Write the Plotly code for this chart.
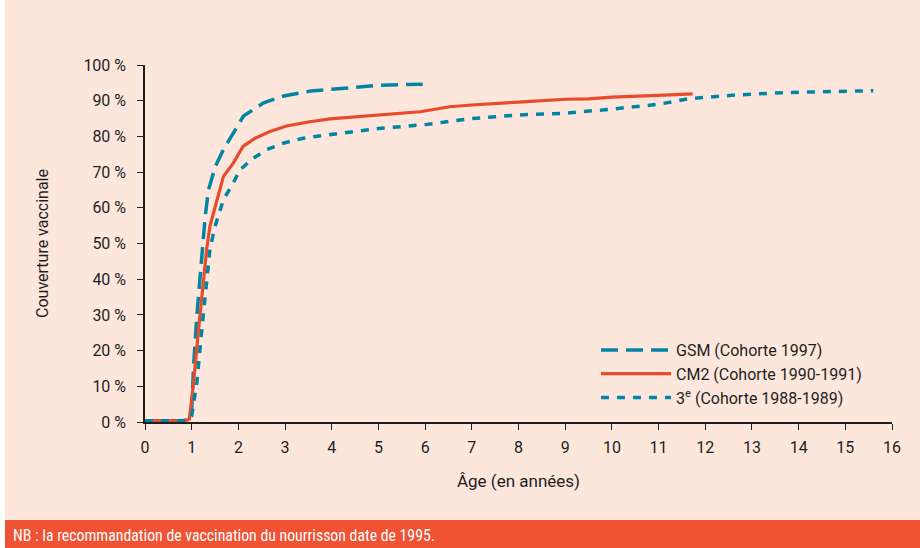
import plotly.graph_objects as go

# GSM (Cohorte 1997)
gsm_x = [0, 0.5, 0.85, 0.95, 1.0, 1.04, 1.11, 1.2, 1.29, 1.36, 1.51, 1.68, 1.9, 2.11, 2.54, 2.97, 3.55, 4.0, 4.5, 5.0, 5.5, 5.95]
gsm_y = [0.3, 0.3, 0.4, 1.0, 3.0, 15.7, 29.7, 43.7, 57.7, 65.0, 71.7, 76.3, 81.0, 85.7, 89.4, 91.3, 92.7, 93.2, 93.9, 94.3, 94.5, 94.6]

# CM2 (Cohorte 1990-1991)
cm2_x = [0, 0.5, 0.85, 0.95, 1.04, 1.14, 1.25, 1.32, 1.39, 1.5, 1.59, 1.68, 1.89, 1.98, 2.1, 2.36, 2.68, 3.03, 3.53, 3.96, 5.03, 5.89, 6.53, 7.0, 8.0, 9.0, 9.5, 10.0, 11.0, 11.73]
cm2_y = [0.3, 0.3, 0.3, 0.8, 11.0, 25.0, 39.0, 48.3, 54.8, 60.4, 64.1, 68.8, 72.5, 74.4, 77.2, 79.5, 81.4, 82.9, 84.1, 84.9, 86.0, 86.9, 88.3, 88.8, 89.6, 90.4, 90.5, 91.0, 91.5, 91.9]

# 3e (Cohorte 1988-1989)
e3_x = [0, 0.5, 0.9, 1.0, 1.11, 1.21, 1.31, 1.39, 1.5, 1.68, 1.89, 2.03, 2.32, 2.61, 2.96, 3.39, 3.89, 5.0, 6.0, 7.0, 8.0, 9.0, 9.96, 11.0, 11.67, 12.67, 13.74, 14.5, 15.45, 15.6]
e3_y = [0.3, 0.3, 0.4, 1.7, 11.0, 25.0, 39.0, 48.3, 54.8, 62.3, 66.9, 70.6, 73.9, 76.3, 78.1, 79.5, 80.4, 82.2, 83.3, 85.0, 86.0, 86.5, 87.6, 89.0, 90.6, 91.6, 92.3, 92.6, 92.8, 92.8]

x_ticks = list(range(0, 17))
y_ticks = list(range(0, 101, 10))
y_labels = [f"{v} %" for v in y_ticks]

teal = "#0086a3"
red = "#ea4a2c"
bg = "#fde7dd"
ink = "#1e1e1e"
font = "Roboto, sans-serif"
narrow = "Liberation Sans Narrow, Roboto Condensed, Roboto, sans-serif"

W, H = 920, 548
L, R, T, B = 145, 28, 65, 126
pw, ph = W - L - R, H - T - B

def px_x(p):
    return (p - L) / pw

def px_y(p):
    return (H - B - p) / ph

fig = go.Figure()
fig.add_trace(go.Scatter(x=gsm_x, y=gsm_y, mode="lines", name="GSM (Cohorte 1997)",
                         line=dict(color=teal, width=3.5, dash="17px,8px")))
fig.add_trace(go.Scatter(x=cm2_x, y=cm2_y, mode="lines", name="CM2 (Cohorte 1990-1991)",
                         line=dict(color=red, width=3.2)))
fig.add_trace(go.Scatter(x=e3_x, y=e3_y, mode="lines", name="3<sup>e</sup> (Cohorte 1988-1989)",
                         line=dict(color=teal, width=3.5, dash="8px,8px")))

fig.update_layout(
    width=W, height=H,
    margin=dict(l=L, r=R, t=T, b=B),
    paper_bgcolor=bg, plot_bgcolor=bg,
    font=dict(family=font, size=16, color=ink),
    showlegend=True,
    legend=dict(x=px_x(596), y=px_y(333), xanchor="left", yanchor="top", bgcolor="rgba(0,0,0,0)",
                itemwidth=70, font=dict(size=16, family=font, color=ink), tracegroupgap=0),
    xaxis=dict(range=[0, 16], tickvals=x_ticks, showgrid=False, zeroline=False,
               showline=True, linecolor=ink, linewidth=1.5,
               ticks="outside", ticklen=6, tickcolor=ink, ticklabelstandoff=4,
               tickfont=dict(family=font, size=16, color=ink),
               title=dict(text="Âge (en années)", standoff=19,
                          font=dict(family=font, size=17, color=ink))),
    yaxis=dict(range=[0, 100], tickvals=y_ticks, ticktext=y_labels, showgrid=False, zeroline=False,
               showline=True, linecolor=ink, linewidth=1.5,
               ticks="outside", ticklen=6, tickcolor=ink, ticklabelstandoff=8,
               tickfont=dict(family=font, size=16, color=ink),
               title=dict(text="Couverture vaccinale", standoff=31,
                          font=dict(family=font, size=16, color=ink))),
    shapes=[
        dict(type="rect", xref="paper", yref="paper",
             x0=px_x(5), x1=px_x(925), y0=px_y(552), y1=px_y(520),
             fillcolor="#f05234", line=dict(width=0), layer="above"),
        dict(type="rect", xref="paper", yref="paper",
             x0=px_x(-2), x1=px_x(5), y0=px_y(552), y1=px_y(-2),
             fillcolor="white", line=dict(width=0), layer="above"),
    ],
    annotations=[dict(text="NB : la recommandation de vaccination du nourrisson date de 1995.",
                      xref="paper", yref="paper", x=px_x(11), y=px_y(535),
                      xanchor="left", yanchor="middle", showarrow=False,
                      font=dict(color="white", size=15.8, family=narrow))],
)

fig.write_html("out.html", config={"displayModeBar": False},
               post_script="document.body.style.margin='0';document.body.style.padding='0';")
